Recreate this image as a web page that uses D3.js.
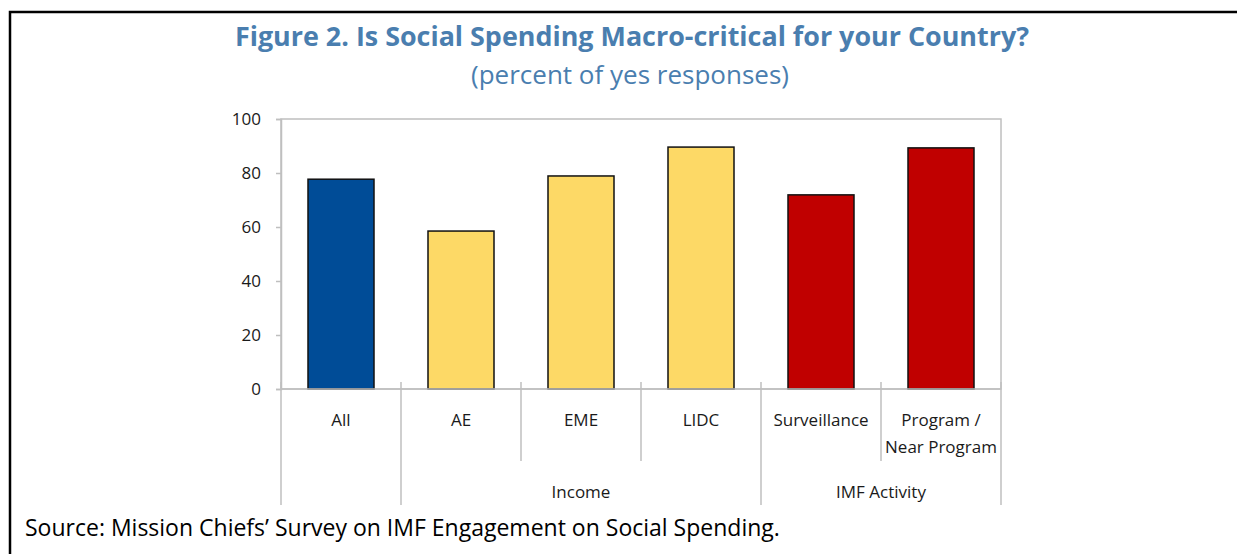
<!DOCTYPE html>
<html>
<head>
<meta charset="utf-8">
<script src="https://cdn.jsdelivr.net/npm/d3@7"></script>
<style>
  body { margin: 0; background: #fff; }
  text { font-family: "Open Sans", "Noto Sans", sans-serif; }
</style>
</head>
<body>
<svg id="chart" width="1237" height="554"></svg>
<script>
// Share of "yes" responses by country grouping
const categories = ["All", "AE", "EME", "LIDC", "Surveillance", "Program /\nNear Program"];
const values = [77.7, 58.5, 78.9, 89.6, 71.9, 89.3];
const barColors = ["#004c97", "#fdd966", "#fdd966", "#fdd966", "#c00000", "#c00000"];
const groupLabels = ["Income", "IMF Activity"];
const groupStart = [1, 4];
const groupEnd = [3, 5];
const yTicks = [0, 20, 40, 60, 80, 100];

const svg = d3.select("#chart");
const plot = { left: 281, right: 1001, top: 119, bottom: 389 };
const gridGrey = "#bfbfbf";
const titleBlue = "#4a7eaf";

// Outer frame (top and left edges)
svg.append("path")
  .attr("d", "M10,554 V12 H1237")
  .attr("fill", "none")
  .attr("stroke", "#000")
  .attr("stroke-width", 2.5);

// Titles
svg.append("text")
  .attr("x", 632).attr("y", 46)
  .attr("text-anchor", "middle")
  .attr("fill", titleBlue)
  .attr("font-size", 26.9)
  .attr("font-weight", 700)
  .text("Figure 2. Is Social Spending Macro-critical for your Country?");

svg.append("text")
  .attr("x", 630).attr("y", 84)
  .attr("text-anchor", "middle")
  .attr("fill", titleBlue)
  .attr("font-size", 26)
  .text("(percent of yes responses)");

// Scales
const x = d3.scaleBand()
  .domain(d3.range(categories.length))
  .range([plot.left, plot.right])
  .paddingInner(0.45)
  .paddingOuter(0.225);
const step = x.step();

const y = d3.scaleLinear()
  .domain([0, 100])
  .range([plot.bottom, plot.top]);

// Plot area border
svg.append("rect")
  .attr("x", plot.left).attr("y", plot.top)
  .attr("width", plot.right - plot.left)
  .attr("height", plot.bottom - plot.top)
  .attr("fill", "none")
  .attr("stroke", gridGrey)
  .attr("stroke-width", 1.5);

// Value axis
const yAxis = svg.append("g")
  .attr("transform", `translate(${plot.left},0)`)
  .call(d3.axisLeft(y).tickValues(yTicks).tickSize(5).tickPadding(15));
yAxis.select(".domain").attr("stroke", gridGrey).attr("stroke-width", 1.5);
yAxis.selectAll(".tick line").attr("stroke", gridGrey).attr("stroke-width", 1.5);
yAxis.selectAll(".tick text")
  .attr("fill", "#1a1a1a")
  .attr("font-size", 17)
  .style("font-family", "'Open Sans', sans-serif");

// Bars
svg.append("g")
  .selectAll("rect")
  .data(values)
  .join("rect")
  .attr("x", (d, i) => x(i))
  .attr("y", d => y(d))
  .attr("width", x.bandwidth())
  .attr("height", d => y(0) - y(d))
  .attr("fill", (d, i) => barColors[i])
  .attr("stroke", "#111")
  .attr("stroke-width", 1.5);

// Category axis baseline
svg.append("line")
  .attr("x1", plot.left).attr("x2", plot.right)
  .attr("y1", plot.bottom).attr("y2", plot.bottom)
  .attr("stroke", gridGrey)
  .attr("stroke-width", 1.5);

// Category dividers: long ones frame the groups, short ones split within a group
const boundaries = d3.range(categories.length + 1);
const longSet = new Set([0, categories.length]);
groupStart.forEach(s => longSet.add(s));
groupEnd.forEach(e => longSet.add(e + 1));
svg.append("g")
  .selectAll("line")
  .data(boundaries)
  .join("line")
  .attr("x1", b => plot.left + b * step)
  .attr("x2", b => plot.left + b * step)
  .attr("y1", plot.bottom - 7)
  .attr("y2", b => longSet.has(b) ? 505 : 461)
  .attr("stroke", gridGrey)
  .attr("stroke-width", 1.5);

// Category labels
const catLabels = svg.append("g")
  .selectAll("text")
  .data(categories)
  .join("text")
  .attr("x", (d, i) => x(i) + x.bandwidth() / 2)
  .attr("y", 426)
  .attr("text-anchor", "middle")
  .attr("fill", "#1a1a1a")
  .attr("font-size", 17);
catLabels.each(function(d) {
  const lines = d.split("\n");
  d3.select(this).selectAll("tspan")
    .data(lines)
    .join("tspan")
    .attr("x", d3.select(this).attr("x"))
    .attr("dy", (l, k) => k === 0 ? 0 : 27)
    .text(l => l);
});

// Group labels
svg.append("g")
  .selectAll("text")
  .data(groupLabels)
  .join("text")
  .attr("x", (d, i) => (x(groupStart[i]) + x(groupEnd[i]) + x.bandwidth()) / 2)
  .attr("y", 498)
  .attr("text-anchor", "middle")
  .attr("fill", "#1a1a1a")
  .attr("font-size", 17)
  .text(d => d);

// Source note
svg.append("text")
  .attr("x", 25).attr("y", 536)
  .attr("fill", "#000")
  .attr("font-size", 23)
  .text("Source: Mission Chiefs\u2019 Survey on IMF Engagement on Social Spending.");
</script>
</body>
</html>
